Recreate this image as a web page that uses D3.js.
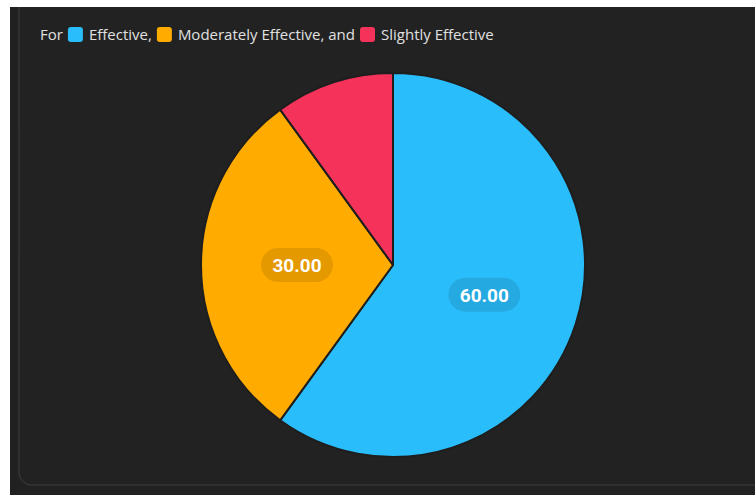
<!DOCTYPE html>
<html>
<head>
<meta charset="utf-8">
<script src="https://cdn.jsdelivr.net/npm/d3@7"></script>
<style>
  body { margin: 0; background: #fff; }
  svg { display: block; }
</style>
</head>
<body>
<script>
// data
var categories = ["Effective", "Moderately Effective", "Slightly Effective"];
var values = [60, 30, 10];
var colors = ["#2abdfb", "#ffab00", "#f5335a"];

var width = 755, height = 495;
var cx = 393, cy = 265, radius = 192;

var svg = d3.select("body").append("svg")
    .attr("width", width)
    .attr("height", height);

// outer dark area + panel
svg.append("rect").attr("x", 10).attr("y", 7).attr("width", width - 10).attr("height", height - 7).attr("fill", "#212121");
svg.append("rect")
    .attr("x", 19).attr("y", -20).attr("width", width + 20).attr("height", 505)
    .attr("rx", 13)
    .attr("fill", "#222222")
    .attr("stroke", "#343434")
    .attr("stroke-width", 1.5);
// white strip above the page
svg.append("rect").attr("x", 0).attr("y", 0).attr("width", width).attr("height", 7).attr("fill", "#fff");

// legend
var font = "15px 'Open Sans', sans-serif";
var lg = svg.append("g").attr("transform", "translate(40,40)");
var lx = 0;
var t0 = lg.append("text").attr("x", lx).attr("y", 0).text("For")
    .attr("fill", "#e0e0e0").style("font", font);
lx += t0.node().getComputedTextLength() + 5;
categories.forEach(function (c, i) {
    lg.append("rect").attr("x", lx).attr("y", -13).attr("width", 15).attr("height", 15)
        .attr("rx", 3).attr("fill", colors[i]);
    lx += 21;
    var label = i == 0 ? c + "," : (i == 1 ? c + ", and" : c);
    var t = lg.append("text").attr("x", lx).attr("y", 0).text(label)
        .attr("fill", "#e0e0e0").style("font", font);
    lx += t.node().getComputedTextLength() + 5;
});

// pie
var pie = d3.pie().sort(null).value(function (d) { return d; });
var arcs = pie(values);
var arc = d3.arc().innerRadius(0).outerRadius(radius);
var labelArc = d3.arc().innerRadius(radius * 0.5).outerRadius(radius * 0.5);

var g = svg.append("g").attr("transform", "translate(" + cx + "," + cy + ")");

g.selectAll("path")
    .data(arcs)
    .enter().append("path")
    .attr("d", arc)
    .attr("fill", function (d, i) { return colors[i]; })
    .attr("stroke", "#1e1e1e")
    .attr("stroke-width", 2)
    .attr("stroke-linejoin", "round");

// labels (small slice label hidden)
var labels = g.selectAll(".lbl")
    .data(arcs.filter(function (d) { return d.value >= 20; }))
    .enter().append("g")
    .attr("class", "lbl")
    .attr("transform", function (d) { return "translate(" + labelArc.centroid(d) + ")"; });

labels.append("rect")
    .attr("x", -36).attr("y", -17).attr("width", 72).attr("height", 34)
    .attr("rx", 17)
    .attr("fill", "rgba(0,0,0,0.1)");

labels.append("text")
    .attr("text-anchor", "middle")
    .attr("dy", "0.36em")
    .attr("fill", "#ffffff")
    .style("font", "bold 19px Roboto, sans-serif")
    .text(function (d) { return d.value.toFixed(2); });
</script>
</body>
</html>
